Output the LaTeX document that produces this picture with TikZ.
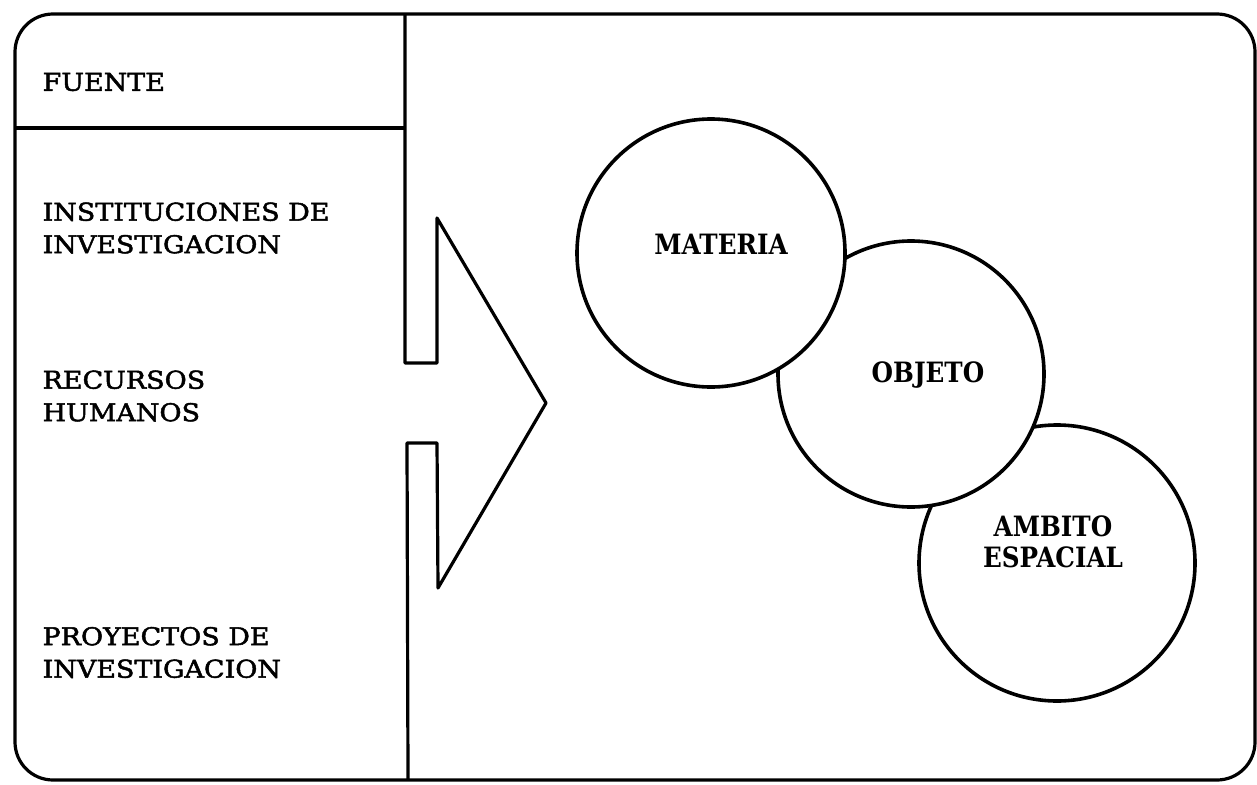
\documentclass[tikz,border=0pt]{standalone}
\usepackage{fontspec}
\setmainfont{DejaVu Serif}
\newfontfamily\slab[FakeStretch=1.1,FakeBold=2]{DejaVu Serif}
\newfontfamily\slabc[FakeStretch=0.88]{DejaVu Serif}
\begin{document}
\begin{tikzpicture}[x=1pt,y=-1pt,line width=3.2pt,line join=round,
  lbl/.style={anchor=west,align=left,inner sep=0pt,font=\slab\fontsize{24.5}{32.5}\selectfont},
  ctxt/.style={align=center,inner sep=0pt,font=\slabc\bfseries\fontsize{28}{31}\selectfont},
  bubble/.style={circle,draw,fill=white,line width=3.6pt,inner sep=0pt}]
\useasboundingbox (0,0) rectangle (1257,784);
% outer frame
\draw[rounded corners=38pt] (15,14) rectangle (1255,780);
% divider with arrow notch
\coordinate (dtop) at (405,14);
\coordinate (n1) at (405,363);
\coordinate (n2) at (437,363);
\coordinate (n3) at (437,218);
\coordinate (tip) at (546,403);
\coordinate (n4) at (438,588);
\coordinate (n5) at (437,443);
\coordinate (n6) at (407,443);
\coordinate (dbot) at (408,780);
\draw (dtop) -- (n1) -- (n2) -- (n3) -- (tip) -- (n4) -- (n5) -- (n6) -- (dbot);
% header line
\coordinate (hl) at (15,128);
\coordinate (hr) at (405,128);
\draw (hl) -- (hr);
% left texts
\node[lbl] (fuente) at (41,82) {FUENTE};
\node[lbl] (inst) at (41,228) {INSTITUCIONES DE\\INVESTIGACION};
\node[lbl] (rec) at (41,396) {RECURSOS\\HUMANOS};
\node[lbl] (proy) at (41,652.5) {PROYECTOS DE\\INVESTIGACION};
% circles (drawn back to front)
\node[bubble,minimum size=276pt] (amb) at (1057,563) {};
\node[bubble,minimum size=266pt] (obj) at (911,374) {};
\node[bubble,minimum size=268pt] (mat) at (711,253) {};
\node[ctxt] (tmat) at (721,244) {MATERIA};
\node[ctxt] (tobj) at (928,375) {OBJETO};
\node[ctxt] (tamb) at (1053,542) {AMBITO\\ESPACIAL};
\end{tikzpicture}
\end{document}
